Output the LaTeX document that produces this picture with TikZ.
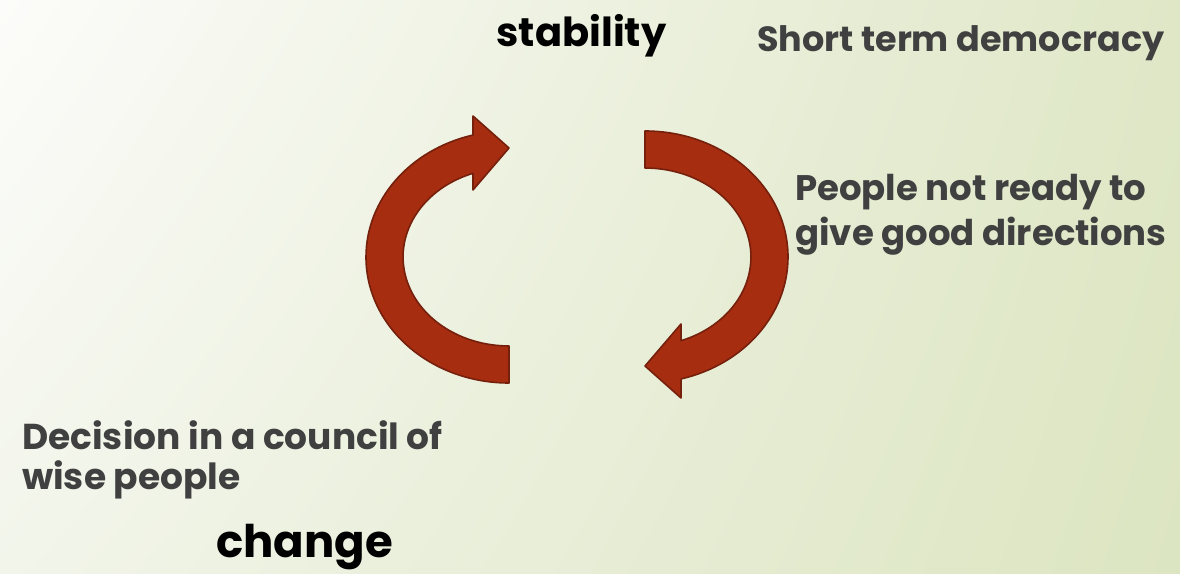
\documentclass[tikz,border=0pt]{standalone}
\usepackage{fontspec}
\usetikzlibrary{shadings}
\setmainfont{Poppins}
\definecolor{bgUL}{HTML}{FCFCFA}
\definecolor{bgUR}{HTML}{DFE7C7}
\definecolor{bgLL}{HTML}{F2F5EA}
\definecolor{bgLR}{HTML}{DCE5C1}
\definecolor{arrowfill}{HTML}{A62D10}
\definecolor{arrowline}{HTML}{75200C}
\definecolor{txtgray}{HTML}{404040}
\tikzset{
  cyclearrow/.style={fill=arrowfill, draw=arrowline, line width=1.6pt, line join=round},
  graytext/.style={text=txtgray, font=\bfseries\fontsize{35}{42}\selectfont, inner sep=0pt, align=left},
  bigtext/.style={text=black, font=\bfseries\fontsize{40}{46}\selectfont, inner sep=0pt}
}
\begin{document}
\begin{tikzpicture}[x=1pt,y=1pt]
\useasboundingbox (0,0) rectangle (1180,573);
\shade[upper left=bgUL, upper right=bgUR, lower left=bgLL, lower right=bgLR] (0,0) rectangle (1180,573);
% left arrow (points up-right)
\path[cyclearrow] (509,227) -- (509,190)
  arc[start angle=-90, end angle=-255.4, x radius=143pt, y radius=126pt]
  -- (473,457) -- (509,425) -- (473,383) -- (473,399.7)
  arc[start angle=-250.1, end angle=-90, x radius=106pt, y radius=89pt] -- cycle;
% right arrow (point symmetric)
\begin{scope}[rotate around={180:(577,316)}]
\path[cyclearrow] (509,227) -- (509,190)
  arc[start angle=-90, end angle=-255.4, x radius=143pt, y radius=126pt]
  -- (473,457) -- (509,425) -- (473,383) -- (473,399.7)
  arc[start angle=-250.1, end angle=-90, x radius=106pt, y radius=89pt] -- cycle;
\end{scope}
\node[bigtext, anchor=base] (stab) at (581.5,526) {stability};
\node[bigtext, font=\bfseries\fontsize{45}{50}\selectfont, anchor=base west] (chg) at (216,16) {change};
\node[graytext, anchor=base west] (short) at (757,521) {Short term democracy};
\node[graytext, anchor=north west, font=\bfseries\fontsize{35.5}{45}\selectfont] (people) at (795,399) {People not ready to\\give good directions};
\node[graytext, anchor=north west, font=\bfseries\fontsize{36}{40}\selectfont] (decision) at (22,153) {Decision in a council of\\wise people};
\end{tikzpicture}
\end{document}
